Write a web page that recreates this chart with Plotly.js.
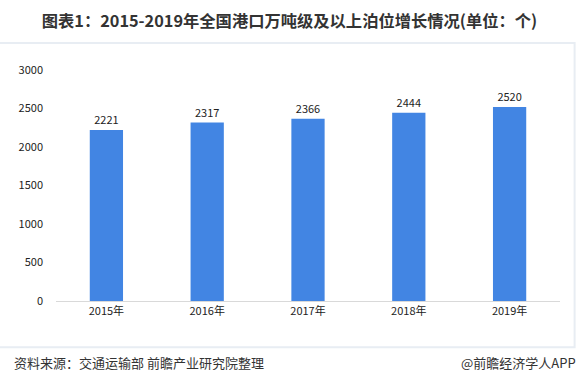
<!DOCTYPE html>
<html><head><meta charset="utf-8">
<script src="https://cdn.plot.ly/plotly-3.0.1.min.js"></script>
<style>html,body{margin:0;padding:0;background:#fff;}#c{width:579px;height:387px;}</style>
</head><body><div id="c"></div>
<script>
const categories = ["2015年","2016年","2017年","2018年","2019年"];
const berths = [2221, 2317, 2366, 2444, 2520];
const yTicks = [0, 500, 1000, 1500, 2000, 2500, 3000];

const font = "Microsoft YaHei, 'Noto Sans CJK SC', sans-serif";
const trace = {
  type: "bar", x: categories, y: berths,
  marker: {color: "#4285e3"},
  text: berths.map(String), textposition: "outside",
  textfont: {size: 11, color: "#222", family: font},
  cliponaxis: false, hoverinfo: "none"
};
const layout = {
  width: 579, height: 387,
  margin: {l: 56, r: 19, t: 70, b: 86},
  paper_bgcolor: "#fff", plot_bgcolor: "#fff",
  bargap: 0.67,
  showlegend: false,
  font: {family: font, size: 11, color: "#222"},
  title: {text: "<b>图表1：2015-2019年全国港口万吨级及以上泊位增长情况(单位：个)</b>",
          x: 0.5, xanchor: "center", y: 0.945, yanchor: "middle",
          font: {size: 16.3, color: "#333", family: font}},
  xaxis: {type: "category", showline: true, linecolor: "#d9d9d9", linewidth: 1,
          ticks: "", showgrid: false, tickfont: {size: 11, color: "#222"}, fixedrange: true},
  yaxis: {range: [0, 3000], tickvals: yTicks, ticktext: yTicks.map(String),
          showgrid: false, zeroline: false, showline: false, ticks: "",
          ticklabelstandoff: 12,
          tickfont: {size: 11, color: "#222"}, fixedrange: true},
  shapes: [{type: "rect", xref: "paper", yref: "paper",
            x0: -0.2, x1: 1.029, y0: -0.2, y1: 1.117,
            line: {color: "#e8edf3", width: 2}, fillcolor: "rgba(0,0,0,0)", layer: "below"}],
  annotations: [
    {text: "资料来源：交通运输部 前瞻产业研究院整理", xref: "paper", yref: "paper",
     x: -0.087, y: -0.265, xanchor: "left", yanchor: "middle", showarrow: false,
     font: {size: 13, color: "#333", family: font}},
    {text: "@前瞻经济学人APP", xref: "paper", yref: "paper",
     x: 1.036, y: -0.265, xanchor: "right", yanchor: "middle", showarrow: false,
     font: {size: 13, color: "#333", family: font}}
  ]
};
Plotly.newPlot("c", [trace], layout, {displayModeBar: false, staticPlot: true});
</script></body></html>
